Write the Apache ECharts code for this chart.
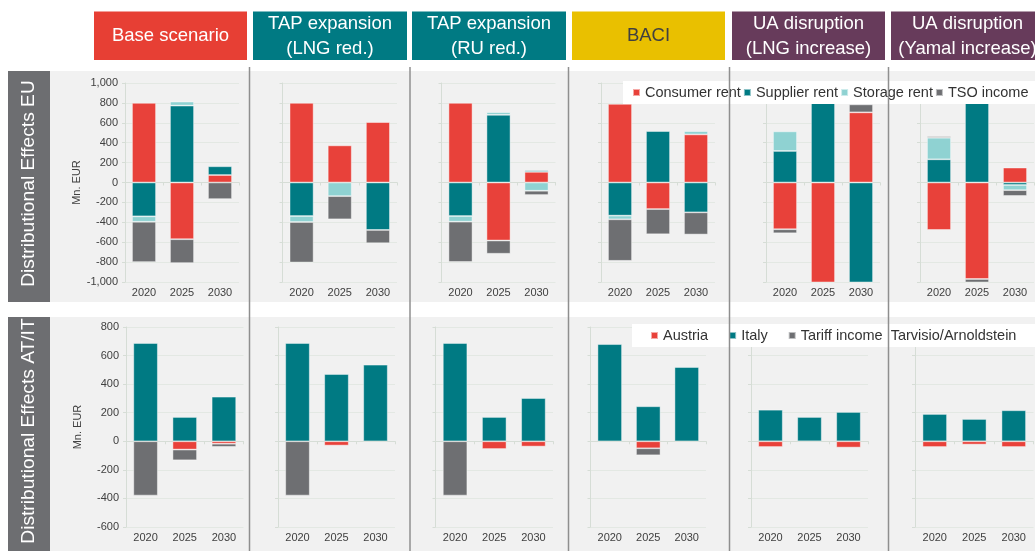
<!DOCTYPE html>
<html><head><meta charset="utf-8">
<script src="https://cdn.jsdelivr.net/npm/echarts@6/dist/echarts.min.js"></script>
<style>html,body{margin:0;padding:0;background:#fff}#c{width:1035px;height:551px}</style>
</head><body><div id="c"></div>
<script>
// ---------- data ----------
const years = ['2020', '2025', '2030'];
const scenarios = ['Base scenario', 'TAP expansion\n(LNG red.)', 'TAP expansion\n(RU red.)', 'BACI', 'UA disruption\n(LNG increase)', 'UA disruption\n(Yamal increase)'];
const rowTitles = ['Distributional Effects EU', 'Distributional Effects AT/IT'];
const unitLabel = 'Mn. EUR';
const euNames = ['Consumer rent', 'Supplier rent', 'Storage rent', 'TSO income'];
const atitNames = ['Austria', 'Italy', 'Tariff income  Tarvisio/Arnoldstein'];

// EU panel values per scenario: [2020, 2025, 2030]
const consumerRent = [
  [800, -570, 75],
  [800, 373, 607],
  [800, -583, 107],
  [790, -267, 483],
  [-470, -1100, 705],
  [-477, -970, 150]
];
const supplierRent = [
  [-340, 773, 88],
  [-337, null, -477],
  [-337, 680, 15],
  [-333, 517, -300],
  [317, 1100, -1100],
  [233, 1100, -25]
];
const storageRent = [
  [-55, 40, null],
  [-60, -137, null],
  [-57, 27, -83],
  [-37, null, 33],
  [197, null, null],
  [217, null, -52]
];
const tsoIncome = [
  [-405, -240, -167],
  [-407, -233, -133],
  [-405, -133, -43],
  [-417, -253, -223],
  [-40, null, 80],
  [15, -40, -58]
];
// AT/IT panel values per scenario: [2020, 2025, 2030]
const austria = [
  [null, -58, -17],
  [null, -30, null],
  [null, -54, -37],
  [null, -49, null],
  [-40, null, -44],
  [-40, -23, -40]
];
const italy = [
  [688, 170, 312],
  [688, 471, 536],
  [688, 170, 303],
  [680, 245, 520],
  [221, 170, 205],
  [191, 156, 217]
];
const tariffIncome = [
  [-380, -75, -22],
  [-380, null, null],
  [-380, null, null],
  [null, -49, null],
  [null, null, null],
  [null, null, null]
];
const euRange = [-1000, 1000];
const atitRange = [-600, 800];
const tickStep = 200;

// ---------- styling / layout ----------
const FONT = '"Liberation Sans", Arial, Helvetica, sans-serif';
const colEU = ['#e8413a', '#007a83', '#8fd2d2', '#6e6f72'];
const colAT = ['#e8413a', '#007a83', '#6e6f72'];
const headerFill = ['#e73f34', '#007a83', '#007a83', '#e9c000', '#673b5b', '#673b5b'];
const headerInk = ['#fff', '#fff', '#fff', '#404040', '#fff', '#fff'];
const headerX = [94, 253, 412, 572, 732, 891];
const headerW = [153, 154, 154, 153, 153, 153];
const rowTop = [83, 327];
const rowH = [199, 200];
const gridL = [[125, 282.5, 441.5, 601, 766, 920], [126, 278, 435.5, 590.5, 751, 915]];
const gridW = [[114, 114.5, 114, 114, 114, 114], [117.5, 117, 117.5, 115.5, 117, 118.5]];
const bgBox = [[71, 231], [317, 234]];
const sepX = [249.5, 410, 568.5, 729.5, 888.5];
const lightLine = '#d6ddd6';
const gridLine = '#e3e8e3';

const fmt = v => (v < 0 ? '-' : '') + String(Math.abs(v)).replace(/\B(?=(\d{3})+(?!\d))/g, ',');

const grid = [], xAxis = [], yAxis = [], series = [];
const rowData = [[consumerRent, supplierRent, storageRent, tsoIncome], [austria, italy, tariffIncome]];
const rowNames = [euNames, atitNames];
const rowCols = [colEU, colAT];
const rowRange = [euRange, atitRange];

for (let r = 0; r < 2; r++) {
  for (let p = 0; p < 6; p++) {
    const gi = grid.length;
    grid.push({ left: gridL[r][p], top: rowTop[r], width: gridW[r][p], height: rowH[r] });
    xAxis.push({
      type: 'category', gridIndex: gi, data: years, position: 'bottom',
      axisLine: { show: false, onZero: false }, axisTick: { show: false },
      axisLabel: { fontSize: 11, color: '#404040', margin: 5, fontFamily: FONT }
    });
    xAxis.push({
      type: 'category', gridIndex: gi, data: years, position: 'top',
      axisLine: { show: true, onZero: true, lineStyle: { color: lightLine, width: 1 } },
      axisTick: { show: true, inside: true, length: 3, lineStyle: { color: lightLine } },
      axisLabel: { show: false }
    });
    yAxis.push({
      type: 'value', gridIndex: gi, min: rowRange[r][0], max: rowRange[r][1], interval: tickStep,
      axisLine: { show: true, lineStyle: { color: lightLine } },
      axisTick: { show: true, length: 3, lineStyle: { color: lightLine } },
      splitLine: { show: true, lineStyle: { color: gridLine } },
      axisLabel: { show: p === 0, fontSize: 11, color: '#404040', margin: 7, formatter: fmt, fontFamily: FONT },
      name: p === 0 ? unitLabel : '', nameLocation: 'middle', nameGap: r === 0 ? 40 : 43,
      nameTextStyle: { fontSize: 11, color: '#404040', fontFamily: FONT }
    });
    rowData[r].forEach((arr, si) => {
      series.push({
        type: 'bar', name: rowNames[r][si], stack: 's' + gi,
        xAxisIndex: gi * 2, yAxisIndex: gi,
        barWidth: r === 0 ? 24 : 24.5,
        itemStyle: { color: rowCols[r][si], borderColor: 'rgba(255,255,255,0.55)', borderWidth: 0.8 },
        data: arr[p], animation: false
      });
    });
  }
}

const g = [];
// row backgrounds
bgBox.forEach(([y, h]) => g.push({ type: 'rect', z: -100, shape: { x: 50, y: y, width: 985, height: h }, style: { fill: '#f1f1f1' } }));
// row title boxes
bgBox.forEach(([y, h], i) => {
  g.push({ type: 'rect', z: -90, shape: { x: 8, y: y, width: 42, height: h }, style: { fill: '#6d6e71' } });
  g.push({ type: 'text', z: 50, x: 29, y: y + h / 2 - 3, rotation: Math.PI / 2,
    style: { text: rowTitles[i], fill: '#fff', font: '19.2px ' + FONT, textAlign: 'center', textVerticalAlign: 'middle' } });
});
// headers
scenarios.forEach((s, i) => {
  g.push({ type: 'rect', z: 40, shape: { x: headerX[i], y: 11.5, width: headerW[i], height: 48.5 }, style: { fill: headerFill[i] } });
  g.push({ type: 'text', z: 50, x: headerX[i] + headerW[i] / 2, y: 36,
    style: { text: s, fill: headerInk[i], font: '18.5px ' + FONT, textAlign: 'center', textVerticalAlign: 'middle', lineHeight: 25 } });
});
// separators
sepX.forEach(x => g.push({ type: 'line', z: 30, shape: { x1: x, y1: 67, x2: x, y2: 551 }, style: { stroke: '#8f8f8f', lineWidth: 1.5 } }));

const legendBase = {
  orient: 'horizontal', backgroundColor: '#ffffff', icon: 'rect', itemWidth: 7, itemHeight: 7,
  textStyle: { fontSize: 14.5, color: '#333', fontFamily: FONT }, selectedMode: false, z: 20
};

const chart = echarts.init(document.getElementById('c'), null, { renderer: 'canvas' });
chart.setOption({
  animation: false,
  textStyle: { fontFamily: FONT },
  grid, xAxis, yAxis, series,
  legend: [
    Object.assign({}, legendBase, { data: euNames, left: 623, top: 81, width: 460, itemGap: 2, padding: [4, 10, 4, 9] }),
    Object.assign({}, legendBase, { data: atitNames, left: 632, top: 324, width: 460, itemGap: 20, padding: [4, 20, 4, 18] })
  ],
  graphic: { elements: g }
});
</script></body></html>
